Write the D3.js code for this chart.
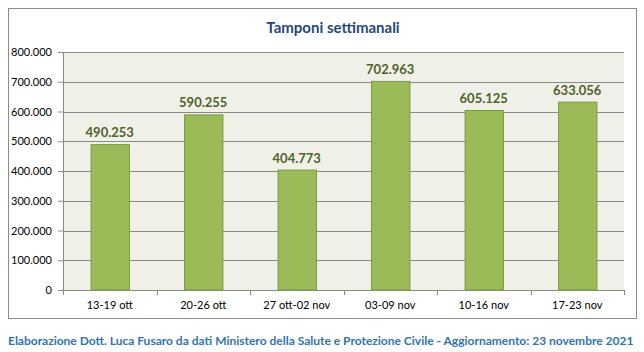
<!DOCTYPE html>
<html>
<head>
<meta charset="utf-8">
<script src="https://cdn.jsdelivr.net/npm/d3@7"></script>
<style>
  body { margin: 0; background: #fff; }
  svg { display: block; font-family: Lato, "Open Sans", sans-serif; }
</style>
</head>
<body>
<svg id="chart"></svg>
<script>
const weeks = ['13-19 ott', '20-26 ott', '27 ott-02 nov', '03-09 nov', '10-16 nov', '17-23 nov'];
const tamponi = [490253, 590255, 404773, 702963, 605125, 633056];
const yTicks = [0, 100000, 200000, 300000, 400000, 500000, 600000, 700000, 800000];

const width = 644, height = 352;
const margin = { top: 52, right: 20, bottom: 62, left: 63 };
const plotW = width - margin.left - margin.right;
const plotH = height - margin.top - margin.bottom;

const itFormat = d3.formatLocale({ decimal: ',', thousands: '.', grouping: [3], currency: ['€', ''] }).format(',.0f');

const svg = d3.select('#chart').attr('width', width).attr('height', height);

// outer frame
svg.append('rect')
    .attr('x', 8.5).attr('y', 8.5)
    .attr('width', 628).attr('height', 310)
    .attr('fill', '#fff')
    .attr('stroke', '#8c8c8c')
    .attr('stroke-width', 1);

// Title
svg.append('text')
    .attr('x', 333)
    .attr('y', 33)
    .attr('text-anchor', 'middle')
    .attr('font-size', '15px')
    .attr('font-weight', '700')
    .attr('fill', '#1f497d')
    .text('Tamponi settimanali');

const x = d3.scaleBand().domain(weeks).range([0, plotW]).paddingInner(0.59).paddingOuter(0.295);
const y = d3.scaleLinear().domain([0, 800000]).range([plotH, 0]);

const g = svg.append('g').attr('transform', `translate(${margin.left},${margin.top})`);

g.append('rect')
    .attr('width', plotW).attr('height', plotH)
    .attr('fill', '#eff1e9');

// gridlines
g.selectAll('.grid')
    .data(yTicks.filter(d => d > 0))
    .enter()
    .append('line')
    .attr('x1', 0).attr('x2', plotW)
    .attr('y1', d => Math.round(y(d)) + 0.5)
    .attr('y2', d => Math.round(y(d)) + 0.5)
    .attr('stroke', '#8a8a8a')
    .attr('stroke-width', 1);

// y axis
const yAxis = g.append('g')
    .call(d3.axisLeft(y).tickValues(yTicks).tickFormat(itFormat).tickSize(5).tickPadding(6));
yAxis.select('.domain').attr('stroke', '#8a8a8a');
yAxis.selectAll('.tick line').attr('stroke', '#8a8a8a');
yAxis.selectAll('text').attr('font-size', '11px').attr('fill', '#000').attr('font-family', 'Lato, sans-serif');

// x axis
const xAxis = g.append('g')
    .attr('transform', `translate(0,${plotH})`)
    .call(d3.axisBottom(x).tickSize(0).tickPadding(11));
xAxis.select('.domain').attr('stroke', '#8a8a8a');
xAxis.selectAll('text').attr('font-size', '11px').attr('fill', '#000').attr('font-family', 'Lato, sans-serif');
// category separators
xAxis.selectAll('.sep')
    .data(d3.range(weeks.length + 1))
    .enter()
    .append('line')
    .attr('x1', i => Math.round(i * plotW / weeks.length) + 0.5)
    .attr('x2', i => Math.round(i * plotW / weeks.length) + 0.5)
    .attr('y1', 0).attr('y2', 5)
    .attr('stroke', '#8a8a8a');

// bars
g.selectAll('.bar')
    .data(tamponi)
    .enter()
    .append('rect')
    .attr('x', (d, i) => x(weeks[i]) + 0.5)
    .attr('y', d => y(d) + 0.5)
    .attr('width', x.bandwidth())
    .attr('height', d => plotH - y(d) - 0.5)
    .attr('fill', '#9bbb59')
    .attr('stroke', '#7a9a3c')
    .attr('stroke-width', 1);

// value labels
g.selectAll('.label')
    .data(tamponi)
    .enter()
    .append('text')
    .attr('x', (d, i) => x(weeks[i]) + x.bandwidth() / 2)
    .attr('y', d => y(d) - 7)
    .attr('text-anchor', 'middle')
    .attr('font-size', '13px')
    .attr('font-weight', '700')
    .attr('fill', '#4f6228')
    .text(d => itFormat(d));

// footer
svg.append('text')
    .attr('x', 8)
    .attr('y', 345)
    .attr('font-size', '12px')
    .attr('font-weight', '700')
    .attr('fill', '#2e75b6')
    .text('Elaborazione Dott. Luca Fusaro da dati Ministero della Salute e Protezione Civile - Aggiornamento: 23 novembre 2021');
</script>
</body>
</html>
